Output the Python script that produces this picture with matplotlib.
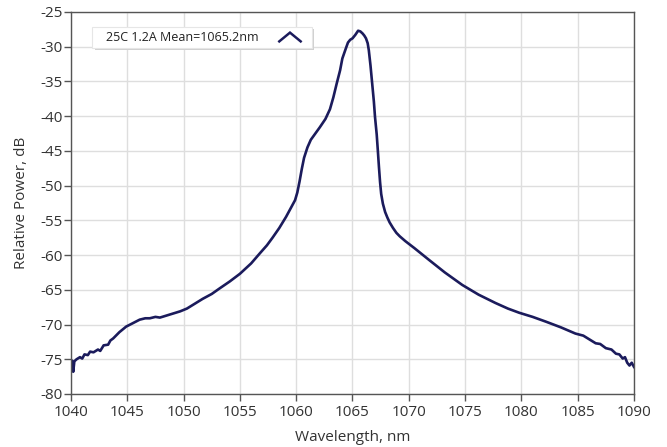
import matplotlib
matplotlib.use("Agg")
import matplotlib.pyplot as plt
from matplotlib.patches import Rectangle

wavelength = [1040.0, 1040.1, 1040.2, 1040.3, 1040.5, 1040.8, 1041.0, 1041.2, 1041.5, 1041.7,
              1042.0, 1042.4, 1042.6, 1042.9, 1043.3, 1043.5, 1043.75, 1044.3, 1044.9, 1045.5,
              1046.1, 1046.6, 1047.0, 1047.5, 1047.9, 1048.5, 1049.1, 1049.7, 1050.3, 1051.0,
              1051.7, 1052.5, 1053.2, 1054.1, 1055.0, 1056.0, 1056.8, 1057.4, 1057.9, 1058.5,
              1059.1, 1059.5, 1059.9, 1060.1, 1060.3, 1060.5, 1060.7, 1061.0, 1061.3, 1061.7,
              1062.1, 1062.6, 1063.0, 1063.3, 1063.6, 1063.9, 1064.1, 1064.4, 1064.6, 1064.8,
              1065.0, 1065.25, 1065.5, 1065.7, 1065.9, 1066.05, 1066.2, 1066.35, 1066.45, 1066.6,
              1066.75, 1066.9, 1067.0, 1067.15, 1067.25, 1067.35, 1067.45, 1067.55, 1067.7, 1067.9,
              1068.1, 1068.3, 1068.6, 1068.9, 1069.2, 1069.7, 1070.5, 1071.8, 1073.2, 1074.75,
              1076.2, 1077.7, 1078.8, 1079.8, 1081.0, 1082.2, 1083.5, 1084.8, 1085.5, 1086.0,
              1086.6, 1087.0, 1087.5, 1088.0, 1088.4, 1088.7, 1089.0, 1089.2, 1089.4, 1089.6,
              1089.8, 1090.0]
power = [-75.6, -75.2, -76.8, -75.3, -75.0, -74.7, -74.9, -74.3, -74.4, -73.9,
         -74.0, -73.6, -73.8, -73.0, -72.9, -72.3, -72.0, -71.1, -70.3, -69.8,
         -69.3, -69.1, -69.1, -68.9, -69.0, -68.7, -68.4, -68.1, -67.7, -67.0,
         -66.3, -65.6, -64.8, -63.8, -62.7, -61.2, -59.7, -58.6, -57.5, -56.1,
         -54.5, -53.3, -52.1, -51.0, -49.4, -47.6, -46.0, -44.5, -43.4, -42.5,
         -41.6, -40.4, -39.0, -37.3, -35.3, -33.4, -31.7, -30.3, -29.4, -29.0,
         -28.8, -28.3, -27.7, -27.8, -28.1, -28.4, -28.8, -29.5, -30.5, -32.7,
         -35.3, -37.9, -40.1, -42.6, -44.9, -47.3, -49.5, -51.2, -52.6, -53.8,
         -54.6, -55.3, -56.1, -56.8, -57.3, -58.0, -59.0, -60.7, -62.5, -64.3,
         -65.7, -66.9, -67.7, -68.3, -68.9, -69.6, -70.4, -71.3, -71.6, -72.1,
         -72.7, -72.8, -73.4, -73.6, -74.2, -74.3, -74.9, -74.7, -75.5, -75.9,
         -75.5, -76.1]

series_label = "25C 1.2A Mean=1065.2nm"
x_ticks = [1040, 1045, 1050, 1055, 1060, 1065, 1070, 1075, 1080, 1085, 1090]
y_ticks = [-80, -75, -70, -65, -60, -55, -50, -45, -40, -35, -30, -25]

plt.rcParams['font.family'] = ['Open Sans', 'DejaVu Sans']

fig = plt.figure(figsize=(6.67, 4.47), dpi=100)
ax = fig.add_axes([0.1064, 0.1186, 0.8441, 0.8546])

line_color = "#1b1b5c"
ax.plot(wavelength, power, color=line_color, lw=1.9, solid_joinstyle='round')

ax.set_xlim(1040, 1090)
ax.set_ylim(-80, -25)
ax.set_xticks(x_ticks)
ax.set_yticks(y_ticks)
ax.set_xticklabels([str(t) for t in x_ticks])
ax.set_yticklabels([str(t) for t in y_ticks])
ax.grid(True, color="#dedede", lw=1.0)
ax.set_axisbelow(True)
for s in ax.spines.values():
    s.set_color("#555555")
    s.set_linewidth(1.0)
ax.tick_params(direction='out', length=5, width=1, color="#555555",
               labelsize=11, labelcolor="#333333")
ax.tick_params(axis='x', pad=3)
ax.tick_params(axis='y', pad=1)
ax.set_xlabel("Wavelength, nm", fontsize=11, color="#333333", labelpad=7)
ax.set_ylabel("Relative Power, dB", fontsize=11, color="#333333", labelpad=8)

# legend box (manual, with shadow)
bx0, by0, bw, bh = 0.038, 0.906, 0.39, 0.055
shadow = Rectangle((bx0 + 0.004, by0 - 0.006), bw, bh, transform=ax.transAxes,
                   facecolor="#d0d0d0", edgecolor="none", zorder=4)
ax.add_patch(shadow)
box = Rectangle((bx0, by0), bw, bh, transform=ax.transAxes,
                facecolor="white", edgecolor="#e6e6e6", lw=0.8, zorder=5)
ax.add_patch(box)
ax.text(bx0 + 0.025, by0 + bh / 2, series_label, transform=ax.transAxes,
        fontsize=9, color="#222222", va='center', ha='left', zorder=6)
ax.plot([0.370, 0.389, 0.408], [by0 + 0.017, by0 + 0.040, by0 + 0.017],
        transform=ax.transAxes, color=line_color, lw=1.8, zorder=6,
        solid_joinstyle='miter')

fig.savefig("out.png", dpi=100)
